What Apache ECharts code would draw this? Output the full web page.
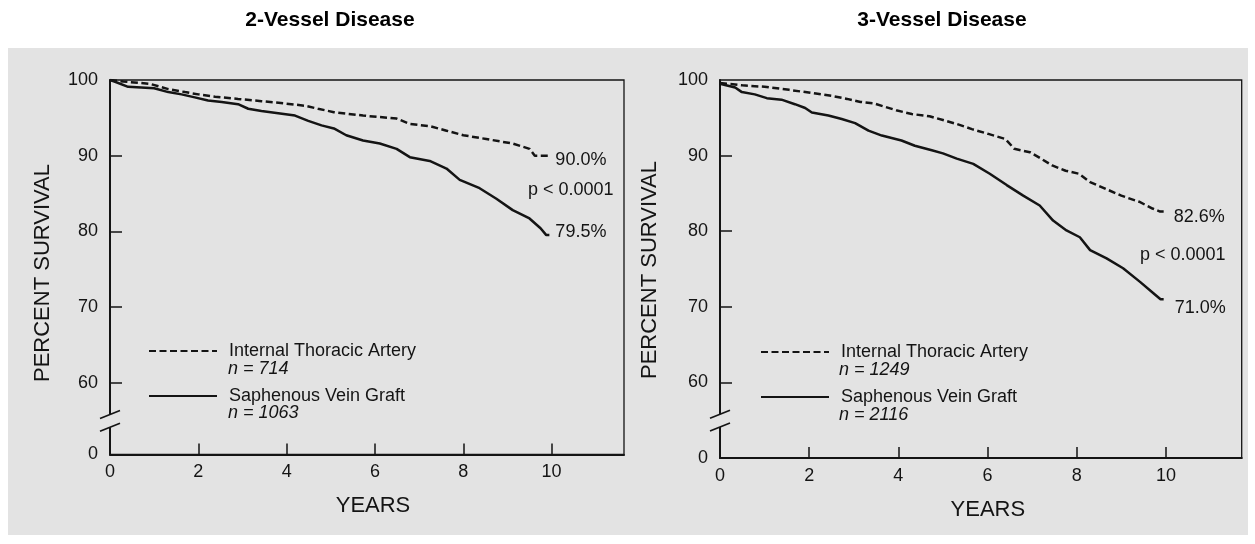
<!DOCTYPE html>
<html>
<head>
<meta charset="utf-8">
<script src="https://cdn.jsdelivr.net/npm/echarts@6/dist/echarts.min.js"></script>
<style>
  html, body { margin: 0; padding: 0; background: #ffffff; }
  #chart { width: 1255px; height: 544px; }
</style>
</head>
<body>
<div id="chart"></div>
<script>
// ---- data ----
const panelTitles = ['2-Vessel Disease', '3-Vessel Disease'];
const seriesNames = ['Internal Thoracic Artery', 'Saphenous Vein Graft'];
const groupSizes = [[714, 1063], [1249, 2116]];
const pValueText = ['p < 0.0001', 'p < 0.0001'];
const xTicks = [0, 2, 4, 6, 8, 10];
const yTicks = [60, 70, 80, 90, 100];
const yFloorLabel = '0';

// 2-vessel disease, Kaplan-Meier survival (years, percent)
const ita2Years = [0, 0.3, 0.9, 0.94, 1.32, 1.7, 2.0, 2.38, 2.9, 3.43, 3.96, 4.41, 4.71, 5.07, 5.73, 6.49, 6.79, 7.24, 7.62, 8.0, 8.52, 9.12, 9.5, 9.62, 9.95];
const ita2Survival = [100, 99.8, 99.5, 99.25, 98.8, 98.4, 98.1, 97.8, 97.5, 97.2, 96.9, 96.6, 96.2, 95.75, 95.3, 94.9, 94.2, 93.9, 93.3, 92.7, 92.2, 91.6, 90.9, 90.0, 90.0];
const svg2Years = [0, 0.1, 0.41, 1.0, 1.32, 1.62, 1.92, 2.22, 2.53, 2.9, 3.13, 3.43, 3.81, 4.19, 4.49, 4.79, 5.07, 5.35, 5.73, 6.11, 6.49, 6.79, 7.24, 7.62, 7.92, 8.37, 8.75, 9.12, 9.5, 9.75, 9.88, 9.95];
const svg2Survival = [100, 99.8, 99.1, 98.9, 98.4, 98.1, 97.7, 97.3, 97.1, 96.8, 96.2, 95.9, 95.6, 95.3, 94.6, 94.0, 93.6, 92.7, 92.0, 91.6, 90.9, 89.8, 89.3, 88.3, 86.8, 85.7, 84.3, 82.8, 81.7, 80.4, 79.5, 79.5];

// 3-vessel disease
const ita3Years = [0, 0.5, 1.0, 1.55, 2.15, 2.5, 2.85, 3.15, 3.45, 3.95, 4.3, 4.7, 5.0, 5.3, 5.65, 6.0, 6.4, 6.6, 6.95, 7.2, 7.45, 7.75, 8.05, 8.3, 8.65, 9.0, 9.4, 9.7, 9.87, 9.95];
const ita3Survival = [99.6, 99.3, 99.1, 98.7, 98.2, 97.9, 97.5, 97.1, 96.9, 96.0, 95.5, 95.2, 94.7, 94.2, 93.5, 92.9, 92.2, 90.9, 90.45, 89.6, 88.7, 88.0, 87.6, 86.5, 85.6, 84.7, 83.9, 83.0, 82.6, 82.6];
const svg3Years = [0, 0.34, 0.49, 0.78, 1.05, 1.38, 1.68, 1.91, 2.06, 2.43, 2.73, 3.03, 3.33, 3.63, 4.07, 4.37, 4.75, 5.0, 5.31, 5.68, 6.05, 6.43, 6.8, 7.17, 7.47, 7.77, 8.07, 8.3, 8.67, 9.04, 9.42, 9.72, 9.88, 9.95];
const svg3Survival = [99.5, 99.0, 98.4, 98.1, 97.6, 97.4, 96.8, 96.3, 95.7, 95.3, 94.85, 94.3, 93.3, 92.65, 92.0, 91.3, 90.7, 90.3, 89.6, 88.9, 87.6, 86.1, 84.7, 83.4, 81.4, 80.1, 79.2, 77.5, 76.4, 75.1, 73.3, 71.8, 71.0, 71.0];

// y positions of the two slashes marking the broken axis
const breakMarks = [55.8, 54.1];

// ---- layout & style ----
const FONT = '"Liberation Sans", Arial, Helvetica, sans-serif';
const INK = '#141414';
const PAPER = '#e3e3e3';
const DASH = [7, 3.5];

const panels = [
  {
    grid: { left: 110, top: 80, width: 514, height: 374.5 },
    xMax: 11.64, yMin: 50.5,
    ita: [ita2Years, ita2Survival], svg: [svg2Years, svg2Survival],
    itaLabel: { distance: 6, offset: [0, 4] },
    svgLabel: { distance: 6, offset: [0, -3] },
    titleX: 330, yNameX: 43, yNameY: 273, xNamePad: 12, xNameGap: 40,
    legend: { left: 148, top: 342 }, nX: 228, nY: [369, 413],
    pPos: [528, 190]
  },
  {
    grid: { left: 720, top: 80, width: 521.7, height: 378 },
    xMax: 11.7, yMin: 50,
    ita: [ita3Years, ita3Survival], svg: [svg3Years, svg3Survival],
    itaLabel: { distance: 10, offset: [0, 5] },
    svgLabel: { distance: 11, offset: [0, 9] },
    titleX: 942, yNameX: 650, yNameY: 270, xNamePad: 14, xNameGap: 41,
    legend: { left: 760, top: 343 }, nX: 839, nY: [370, 415],
    pPos: [1140, 255]
  }
];

const zip = (xs, ys) => xs.map((x, i) => [x, ys[i]]);

const chart = echarts.init(document.getElementById('chart'), null, { renderer: 'canvas' });

const grids = [], xAxes = [], yAxes = [], series = [], legends = [];

panels.forEach((p, i) => {
  grids.push(Object.assign({
    show: true, borderColor: INK, borderWidth: 1.3, backgroundColor: 'transparent', containLabel: false
  }, p.grid));

  xAxes.push({
    type: 'value', gridIndex: i, min: 0, max: p.xMax,
    name: 'YEARS', nameLocation: 'middle', nameGap: p.xNameGap,
    nameTextStyle: { fontFamily: FONT, fontSize: 22, color: INK, padding: [0, 0, 0, p.xNamePad] },
    axisLine: { show: true, lineStyle: { color: INK, width: 2 } },
    axisTick: { show: true, inside: true, length: 11, customValues: xTicks.filter(v => v > 0), lineStyle: { color: INK, width: 1.5 } },
    axisLabel: { customValues: xTicks, margin: 9, fontFamily: FONT, fontSize: 18, color: INK },
    splitLine: { show: false }
  });

  yAxes.push({
    type: 'value', gridIndex: i, min: p.yMin, max: 100,
    axisLine: { show: true, lineStyle: { color: INK, width: 2 } },
    axisTick: { show: true, inside: true, length: 12, customValues: yTicks.slice(0, -1), lineStyle: { color: INK, width: 1.5 } },
    axisLabel: {
      customValues: [p.yMin].concat(yTicks), margin: 12,
      fontFamily: FONT, fontSize: 18, color: INK,
      formatter: v => (v === p.yMin ? yFloorLabel : String(v))
    },
    splitLine: { show: false }
  });

  const common = {
    type: 'line', xAxisIndex: i, yAxisIndex: i,
    symbol: 'none', showSymbol: false, silent: true, z: 3
  };
  const endLabelBase = {
    show: true, fontFamily: FONT, fontSize: 18, color: INK,
    formatter: prm => prm.value[1].toFixed(1) + '%'
  };
  series.push(Object.assign({}, common, {
    name: seriesNames[0],
    data: zip(p.ita[0], p.ita[1]),
    lineStyle: { color: INK, width: 2.5, type: DASH },
    itemStyle: { color: INK },
    endLabel: Object.assign({}, endLabelBase, p.itaLabel)
  }));
  series.push(Object.assign({}, common, {
    name: seriesNames[1],
    data: zip(p.svg[0], p.svg[1]),
    lineStyle: { color: INK, width: 2.5, type: 'solid' },
    itemStyle: { color: INK },
    endLabel: Object.assign({}, endLabelBase, p.svgLabel)
  }));

  legends.push({
    orient: 'vertical', left: p.legend.left, top: p.legend.top,
    padding: 0,
    itemWidth: 68, itemHeight: 14, itemGap: 27,
    selectedMode: false,
    data: seriesNames,
    // line sample only, no marker dot
    itemStyle: { color: 'transparent', borderColor: 'transparent', borderWidth: 0, opacity: 0 },
    textStyle: { fontFamily: FONT, fontSize: 18, color: INK, padding: [0, 0, 0, 7] }
  });
});

chart.setOption({
  backgroundColor: '#ffffff',
  animation: false,
  grid: grids,
  xAxis: xAxes,
  yAxis: yAxes,
  legend: legends,
  series: series
});

// Decorations: panel background, titles, axis names, group sizes, p-values and axis-break slashes
const g = [{
  type: 'rect', z: -100, silent: true,
  shape: { x: 8, y: 48, width: 1240, height: 487 },
  style: { fill: PAPER }
}];

panels.forEach((p, i) => {
  g.push({
    type: 'text', x: p.titleX, y: 20, silent: true,
    style: { text: panelTitles[i], font: 'bold 21px ' + FONT, fill: '#000', align: 'center', verticalAlign: 'middle' }
  });
  g.push({
    type: 'text', x: p.yNameX, y: p.yNameY, rotation: Math.PI / 2, silent: true,
    style: { text: 'PERCENT SURVIVAL', font: '22px ' + FONT, fill: INK, align: 'center', verticalAlign: 'middle' }
  });
  groupSizes[i].forEach((n, k) => {
    g.push({
      type: 'text', x: p.nX, y: p.nY[k], silent: true,
      style: { text: 'n = ' + n, font: 'italic 18px ' + FONT, fill: INK, align: 'left', verticalAlign: 'middle' }
    });
  });
  g.push({
    type: 'text', x: p.pPos[0], y: p.pPos[1], silent: true,
    style: { text: pValueText[i], font: '18px ' + FONT, fill: INK, align: 'left', verticalAlign: 'middle' }
  });

  const top = chart.convertToPixel({ gridIndex: i }, [0, breakMarks[0]]);
  const bot = chart.convertToPixel({ gridIndex: i }, [0, breakMarks[1]]);
  g.push({
    type: 'rect', z: 100, silent: true,
    shape: { x: top[0] - 3, y: top[1], width: 6, height: bot[1] - top[1] },
    style: { fill: PAPER }
  });
  [top, bot].forEach(pt => {
    g.push({
      type: 'line', z: 101, silent: true,
      shape: { x1: pt[0] - 10, y1: pt[1] + 4, x2: pt[0] + 10, y2: pt[1] - 4 },
      style: { stroke: INK, lineWidth: 1.6 }
    });
  });
});

chart.setOption({ graphic: g });
</script>
</body>
</html>
